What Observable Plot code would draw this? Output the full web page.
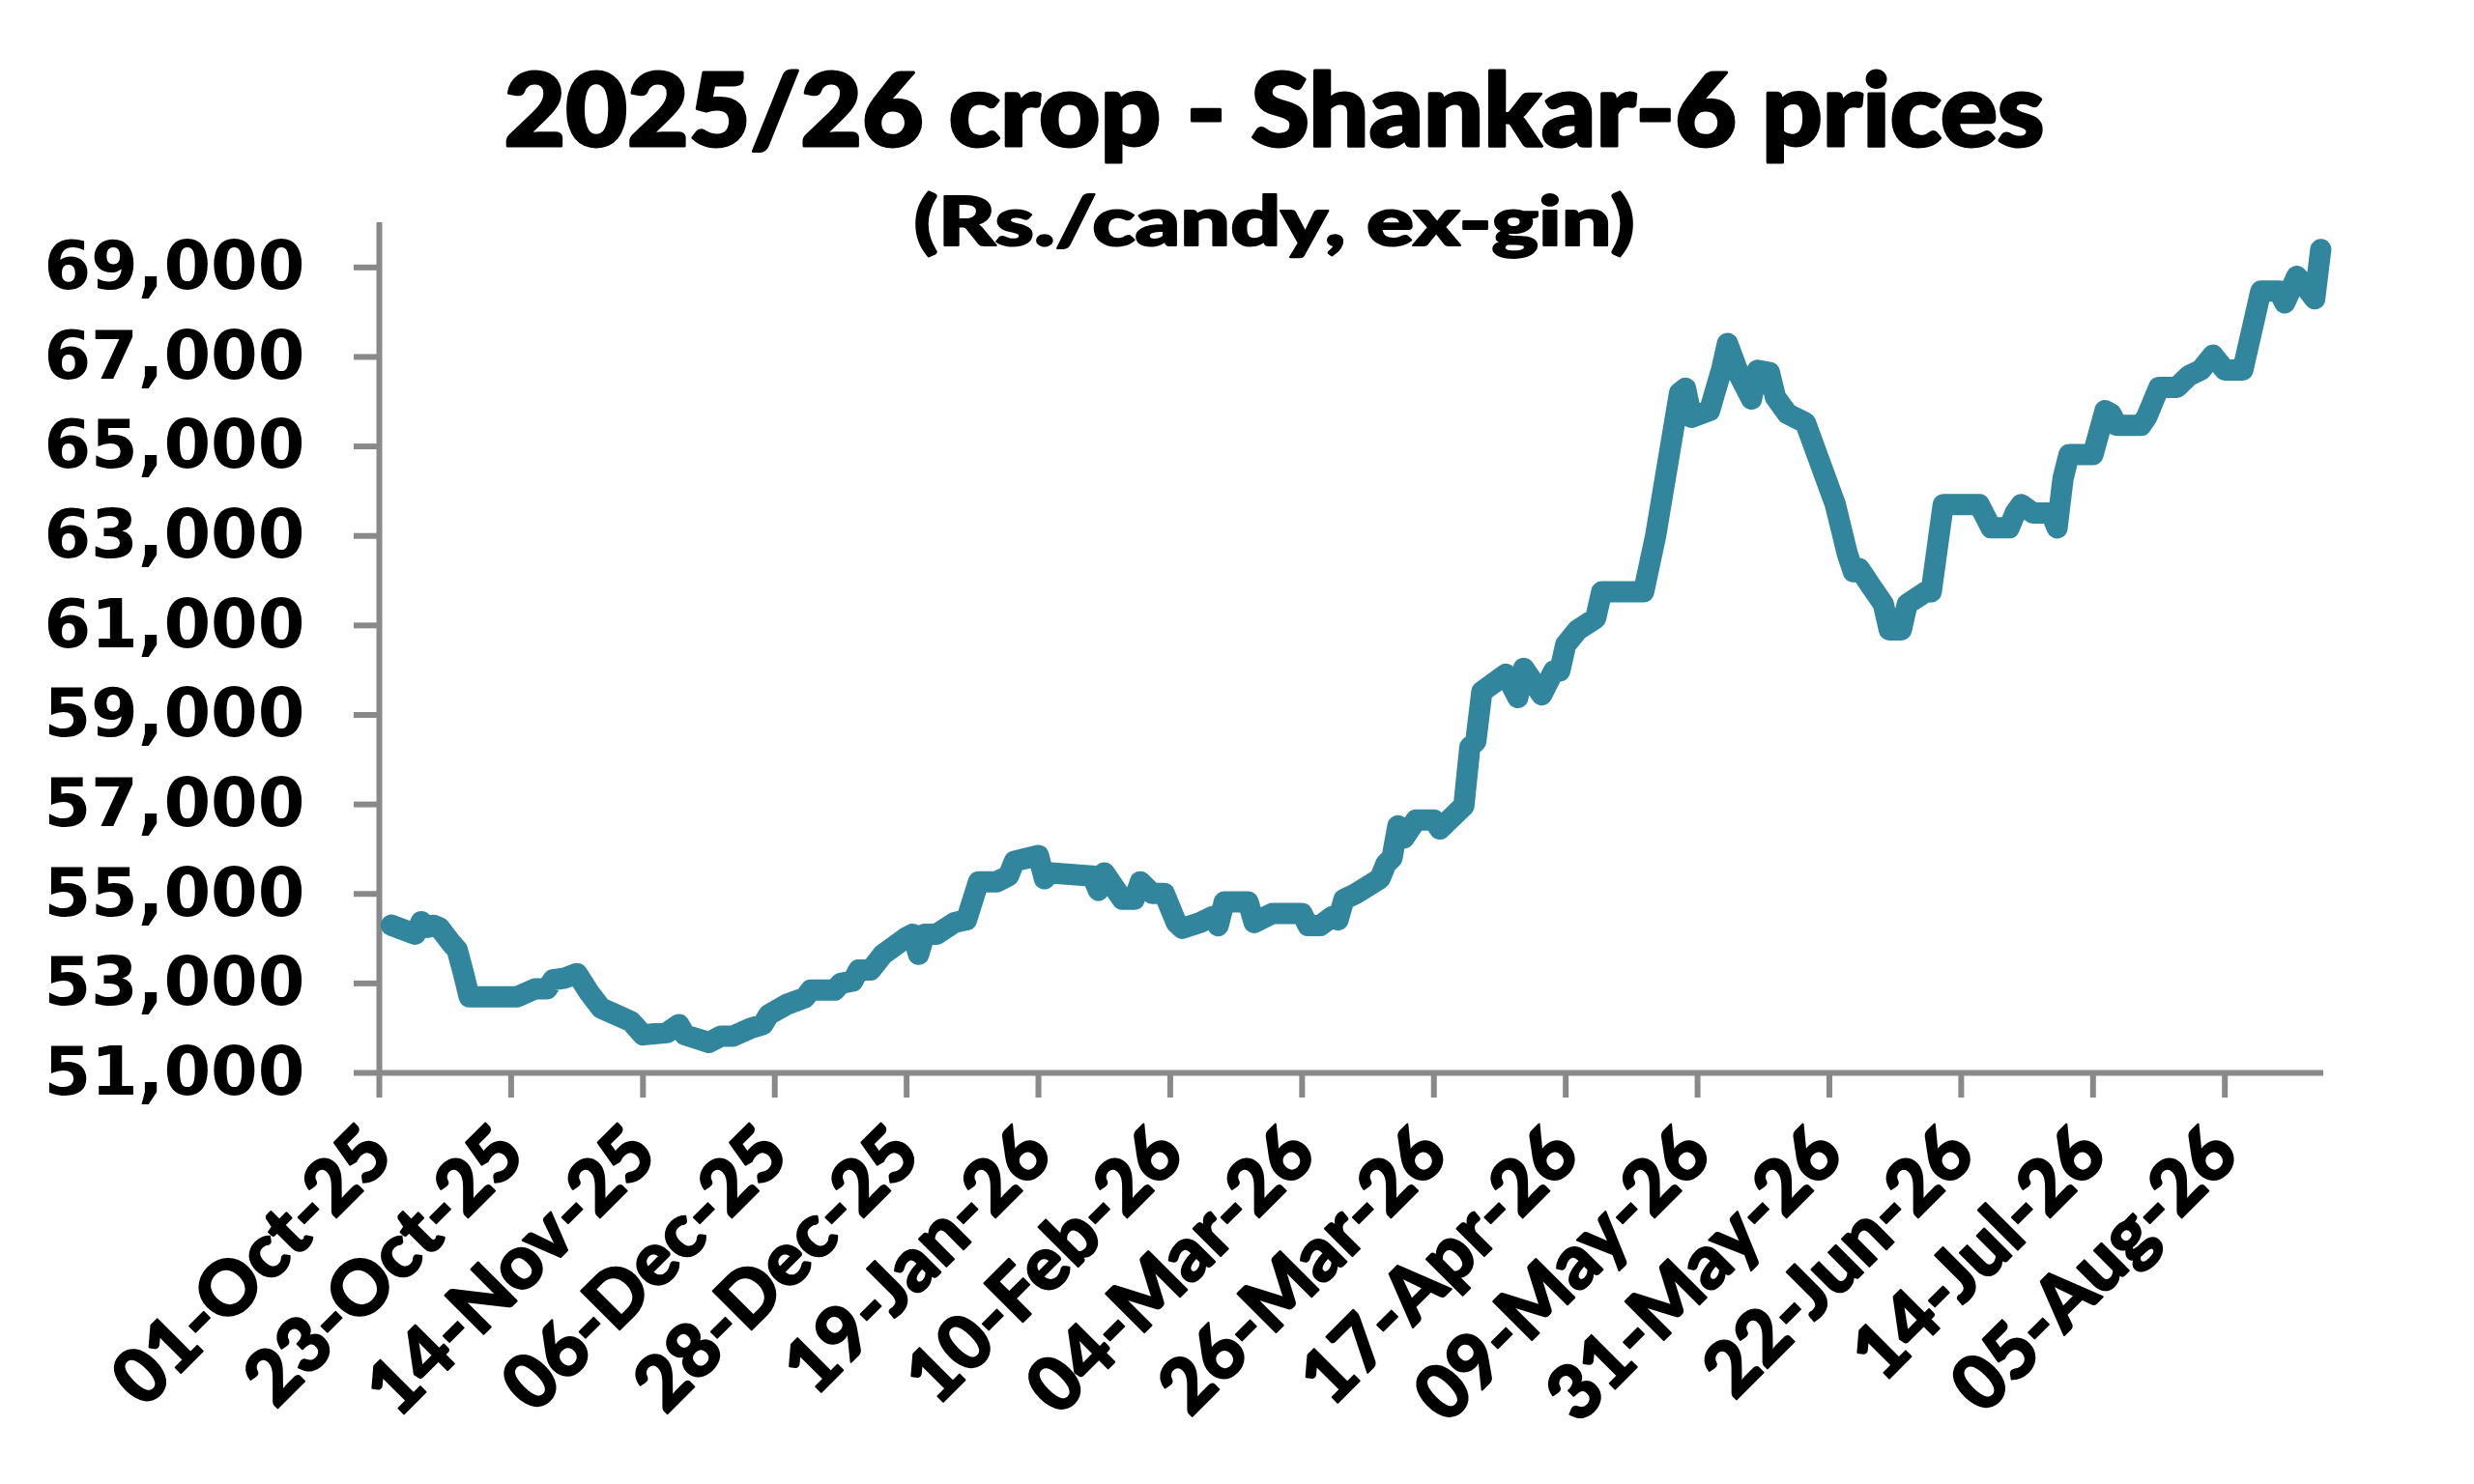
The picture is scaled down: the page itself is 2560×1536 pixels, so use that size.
<!DOCTYPE html>
<html><head><meta charset="utf-8">
<script src="https://cdn.jsdelivr.net/npm/d3@7"></script>
<script src="https://cdn.jsdelivr.net/npm/@observablehq/plot@0.6"></script>
<style>html,body{margin:0;padding:0;background:#fff;} #chart svg{display:block;}</style>
</head><body><div id="chart"></div>
<script>
const title = "2025/26 crop - Shankar-6 prices";
const subtitle = "(Rs./candy, ex-gin)";

const dates = [
"2025-10-03","2025-10-06","2025-10-07","2025-10-08","2025-10-09","2025-10-10","2025-10-11","2025-10-13","2025-10-14","2025-10-15",
"2025-10-16","2025-10-24","2025-10-27","2025-10-29","2025-10-30","2025-11-01","2025-11-03","2025-11-05","2025-11-07","2025-11-12",
"2025-11-14","2025-11-18","2025-11-20","2025-11-21","2025-11-25","2025-11-27","2025-11-29","2025-12-02","2025-12-04","2025-12-05",
"2025-12-08","2025-12-11","2025-12-12","2025-12-16","2025-12-17","2025-12-19","2025-12-20","2025-12-22","2025-12-24","2025-12-28",
"2025-12-29","2025-12-30","2025-12-31","2026-01-02","2026-01-05","2026-01-07","2026-01-09","2026-01-12","2026-01-14","2026-01-15",
"2026-01-19","2026-01-20","2026-01-21","2026-01-28","2026-01-29","2026-01-30","2026-02-02","2026-02-04","2026-02-05","2026-02-07",
"2026-02-09","2026-02-11","2026-02-12","2026-02-15","2026-02-17","2026-02-18","2026-02-19","2026-02-23","2026-02-24","2026-02-27",
"2026-03-04","2026-03-05","2026-03-07","2026-03-09","2026-03-10","2026-03-11","2026-03-13","2026-03-17","2026-03-18","2026-03-19",
"2026-03-20","2026-03-21","2026-03-23","2026-03-26","2026-03-27","2026-03-31","2026-04-01","2026-04-02","2026-04-03","2026-04-07",
"2026-04-09","2026-04-10","2026-04-13","2026-04-15","2026-04-16","2026-04-17","2026-04-19","2026-04-22","2026-04-23","2026-04-30",
"2026-05-02","2026-05-04","2026-05-06","2026-05-07","2026-05-08","2026-05-11","2026-05-13","2026-05-14","2026-05-16","2026-05-18",
"2026-05-19","2026-05-21","2026-05-22","2026-05-24","2026-05-27","2026-06-01","2026-06-03","2026-06-04","2026-06-05","2026-06-07",
"2026-06-09","2026-06-10","2026-06-12","2026-06-13","2026-06-16","2026-06-17","2026-06-19","2026-06-25","2026-06-27","2026-06-30",
"2026-07-01","2026-07-02","2026-07-04","2026-07-07","2026-07-08","2026-07-09","2026-07-10","2026-07-14","2026-07-16","2026-07-17",
"2026-07-18","2026-07-22","2026-07-23","2026-07-25","2026-07-28","2026-07-30","2026-08-01","2026-08-03","2026-08-05","2026-08-08",
"2026-08-11","2026-08-14","2026-08-15","2026-08-17","2026-08-18","2026-08-20","2026-08-21"
];
const prices = [
54300,54150,54100,54380,54250,54300,54250,53900,53750,53250,
52700,52700,52880,52880,53080,53120,53220,52800,52450,52150,
51850,51900,52080,51850,51680,51820,51820,52000,52080,52300,
52530,52680,52850,52850,53000,53050,53300,53300,53640,54030,
54100,53650,54100,54100,54360,54420,55270,55270,55400,55730,
55860,55340,55470,55400,55080,55470,54880,54880,55270,55010,
55010,54360,54230,54360,54490,54290,54820,54820,54360,54560,
54560,54290,54290,54490,54420,54880,55010,55340,55670,55800,
56520,56250,56650,56650,56450,56970,58280,58410,59520,59910,
59390,60040,59450,59980,59980,60570,60900,61160,61750,61750,
63000,64600,66200,66300,65650,65800,66710,67300,66580,66060,
66700,66650,66100,65730,65530,63700,62600,62200,62270,61870,
61480,60900,60900,61480,61740,61750,63700,63700,63180,63180,
63510,63700,63510,63510,63180,64290,64820,64820,65800,65730,
65470,65470,65670,66320,66320,66580,66710,67040,66710,66710,
68470,68470,68210,68800,68650,68300,69400
];
const xTickDates = ["2025-10-01","2025-10-23","2025-11-14","2025-12-06","2025-12-28","2026-01-19","2026-02-10",
  "2026-03-04","2026-03-26","2026-04-17","2026-05-09","2026-05-31","2026-06-22","2026-07-14","2026-08-05"];
const yTicks = [51000,53000,55000,57000,59000,61000,63000,65000,67000,69000];

const data = dates.map((d, i) => ({date: new Date(d), price: prices[i]}));
const gray = "#898989";
const lineColor = "#31859c";
const fmtX = d3.utcFormat("%d-%b-%y");
const xStart = new Date("2025-10-01");
const heavy = "Lato, 'DejaVu Sans'";

const chart = Plot.plot({
  width: 2560, height: 1536,
  marginLeft: 392, marginRight: 156, marginTop: 230, marginBottom: 426,
  style: {background: "#fff", color: "#000", fontFamily: "DejaVu Sans"},
  x: {type: "utc", domain: [xStart, new Date("2026-08-21T12:00:00Z")]},
  y: {domain: [51000, 70000]},
  marks: [
    Plot.ruleY([51000], {stroke: gray, strokeWidth: 6}),
    Plot.ruleX([xStart], {y1: 51000, y2: 70000, stroke: gray, strokeWidth: 6}),
    Plot.axisY({ticks: yTicks, tickSize: 26, tickPadding: 51, tickFormat: d3.format(","), label: null,
      fontSize: 70, fontWeight: "bold", fontFamily: "DejaVu Sans"}),
    Plot.axisX({ticks: xTickDates.map(d => new Date(d)), tickSize: 26, tickPadding: 44, tickRotate: -45,
      tickFormat: fmtX, label: null, fontSize: 78, fontWeight: 900, fontFamily: heavy}),
    Plot.line(data, {x: "date", y: "price", stroke: lineColor, strokeWidth: 22,
      strokeLinejoin: "round", strokeLinecap: "round"}),
    Plot.text([title], {text: d => d, frameAnchor: "top", dx: -80, dy: -80, lineAnchor: "bottom",
      fontSize: 104, fontWeight: 900, fontFamily: heavy, fill: "#000"}),
    Plot.text([subtitle], {text: d => d, frameAnchor: "top", dx: -80, dy: 23, lineAnchor: "bottom",
      fontSize: 70, fontWeight: 900, fontFamily: heavy, fill: "#000"})
  ]
});

// axis tick styling
chart.querySelectorAll('g[aria-label="y-axis tick"], g[aria-label="x-axis tick"]').forEach(g => {
  g.setAttribute("stroke", gray);
  g.setAttribute("stroke-width", 6);
});
// heavier strokes for the black-weight texts, fit title widths to the reference
chart.querySelectorAll('g[aria-label="x-axis tick label"]').forEach(g => {
  g.setAttribute("stroke", "#000"); g.setAttribute("stroke-width", 2); g.setAttribute("stroke-linejoin", "round");
});
chart.querySelectorAll("text").forEach(t => {
  if (t.textContent === title) { t.setAttribute("textLength", 1594); t.setAttribute("lengthAdjust", "spacingAndGlyphs");
    t.setAttribute("stroke", "#000"); t.setAttribute("stroke-width", 3); t.setAttribute("stroke-linejoin", "round"); }
  if (t.textContent === subtitle) { t.setAttribute("textLength", 746); t.setAttribute("lengthAdjust", "spacingAndGlyphs");
    t.setAttribute("stroke", "#000"); t.setAttribute("stroke-width", 2); t.setAttribute("stroke-linejoin", "round"); }
});
document.getElementById("chart").appendChild(chart);
</script>
</body></html>
